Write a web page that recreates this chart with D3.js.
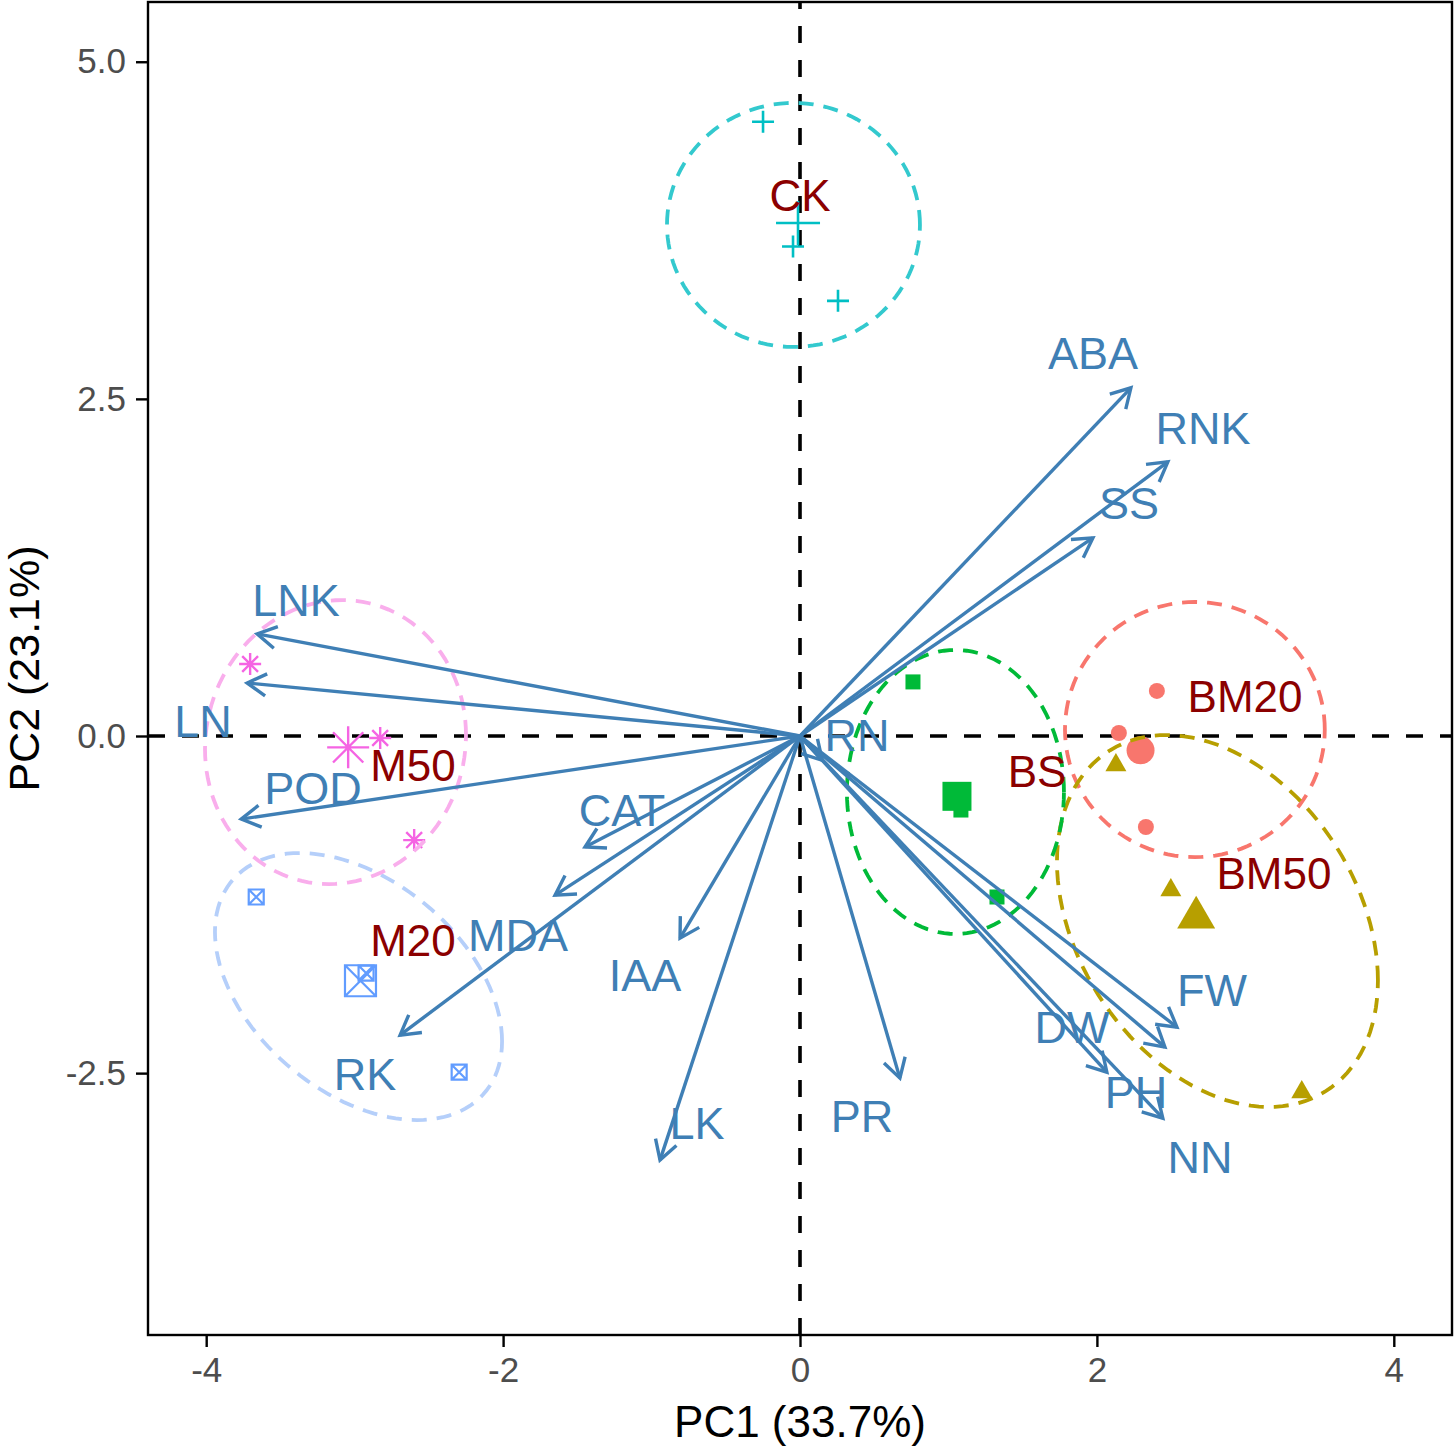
<!DOCTYPE html>
<html>
<head>
<meta charset="utf-8">
<script src="https://cdn.jsdelivr.net/npm/d3@7/dist/d3.min.js"></script>
<style>
  body { margin: 0; background: #fff; }
  svg { display: block; font-family: "Liberation Sans", Arial, sans-serif; }
</style>
</head>
<body>
<svg id="biplot"></svg>
<script>
const width = 1454;
const height = 1447;

// groups (ggplot default hue order)
const groups = ['BM20', 'BM50', 'BS', 'CK', 'M20', 'M50'];
const groupColors = ['#F8766D', '#B79F00', '#00BA38', '#00BFC4', '#619CFF', '#F564E3'];
const ellipseColors = ['#F8766D', '#B79F00', '#00BA38', '#33C9CE', '#B5CFFA', '#F9AEEC'];
const groupShapes = ['circle', 'triangle', 'square', 'plus', 'squareCross', 'asterisk'];

// individuals (PCA scores)
const indGroup = ['BM20', 'BM20', 'BM20', 'BM50', 'BM50', 'BM50', 'BS', 'BS', 'BS',
                  'CK', 'CK', 'CK', 'M20', 'M20', 'M20', 'M50', 'M50', 'M50'];
const indPC1 = [2.404, 2.148, 2.330, 2.128, 2.498, 3.380, 0.761, 1.084, 1.327,
                -0.249, -0.047, 0.256, -3.663, -2.923, -2.296, -3.704, -2.828, -2.599];
const indPC2 = [0.334, 0.022, -0.675, -0.200, -1.128, -2.626, 0.401, -0.549, -1.194,
                4.555, 3.630, 3.227, -1.194, -1.758, -2.493, 0.534, -0.015, -0.772];

// group label anchors (after repel)
const groupLabelPC1 = [2.998, 3.193, 1.597, 0.000, -2.607, -2.607];
const groupLabelPC2 = [0.297, -1.016, -0.260, 4.012, -1.513, -0.215];

// ellipses: centre, half width, half height, correlation
const ellCX = [2.660, 2.812, 1.047, -0.044, -2.974, -3.129];
const ellCY = [0.048, -1.372, -0.415, 3.790, -1.858, -0.045];
const ellA  = [0.875, 1.081, 0.731, 0.852, 0.967, 0.879];
const ellB  = [0.946, 1.379, 1.053, 0.905, 0.990, 1.053];
const ellR  = [0.00, -0.32, 0.00, 0.00, -0.41, 0.05];

// variables (loadings, scaled)
const varNames = ['ABA', 'RNK', 'SS', 'LNK', 'LN', 'POD', 'RN', 'CAT', 'MDA',
                  'IAA', 'RK', 'LK', 'PR', 'FW', 'DW', 'PH', 'NN'];
const varPC1 = [2.229, 2.478, 1.973, -3.657, -3.724, -3.764, 0.150, -1.448, -1.650,
                -0.808, -2.694, -0.943, 0.673, 2.539, 2.067, 2.458, 2.444];
const varPC2 = [2.582, 2.033, 1.469, 0.757, 0.393, -0.616, -0.180, -0.823, -1.180,
                -1.499, -2.218, -3.145, -2.537, -2.159, -2.493, -2.307, -2.834];
const varLabelPC1 = [1.974, 2.715, 2.216, -3.395, -4.022, -3.281, 0.384, -1.199, -1.900,
                     -1.044, -2.930, -0.694, 0.418, 2.775, 1.832, 2.264, 2.694];
const varLabelPC2 = [2.840, 2.284, 1.728, 1.009, 0.111, -0.386, 0.007, -0.549, -1.476,
                     -1.772, -2.506, -2.870, -2.818, -1.884, -2.158, -2.640, -3.122];

const xTicks = [-4, -2, 0, 2, 4];
const yTicks = [-2.5, 0, 2.5, 5];

const svg = d3.select('#biplot').attr('width', width).attr('height', height);

const x = d3.scaleLinear().domain([-4.392, 4.392]).range([148, 1452]);
const y = d3.scaleLinear().domain([-4.442, 5.443]).range([1335, 2]);
const color = d3.scaleOrdinal().domain(groups).range(groupColors);
const ellColor = d3.scaleOrdinal().domain(groups).range(ellipseColors);
const shape = d3.scaleOrdinal().domain(groups).range(groupShapes);

// axes
const xAxis = svg.append('g').attr('transform', `translate(0,${y.range()[0]})`)
  .call(d3.axisBottom(x).tickValues(xTicks).tickSize(12).tickPadding(10).tickFormat(d => String(d)));
const yAxis = svg.append('g').attr('transform', `translate(${x.range()[0]},0)`)
  .call(d3.axisLeft(y).tickValues(yTicks).tickSize(12).tickPadding(10).tickFormat(d => d.toFixed(1)));
[xAxis, yAxis].forEach(a => {
  a.select('.domain').remove();
  a.selectAll('line').attr('stroke', '#000').attr('stroke-width', 2.4);
  a.selectAll('text').attr('font-size', 35).attr('fill', '#4D4D4D')
    .style('font-family', '"Liberation Sans", Arial, sans-serif');
});

// reference lines
svg.append('line')
  .attr('x1', x.range()[0]).attr('x2', x.range()[1]).attr('y1', y(0)).attr('y2', y(0))
  .attr('stroke', '#000').attr('stroke-width', 3.6).attr('stroke-dasharray', '17,17');
svg.append('line')
  .attr('x1', x(0)).attr('x2', x(0)).attr('y1', y.range()[0]).attr('y2', y.range()[1])
  .attr('stroke', '#000').attr('stroke-width', 3.6).attr('stroke-dasharray', '17,17');

// symbols
function drawShape(g, kind, px, py, s, col) {
  if (kind === 'circle') {
    g.append('circle').attr('cx', px).attr('cy', py).attr('r', s / 2).attr('fill', col);
  } else if (kind === 'triangle') {
    const h = s * Math.sqrt(3) / 2;
    g.append('path')
      .attr('d', `M${px},${py - h * 0.55}L${px + s / 2},${py + h * 0.45}L${px - s / 2},${py + h * 0.45}Z`)
      .attr('fill', col);
  } else if (kind === 'square') {
    g.append('rect').attr('x', px - s / 2).attr('y', py - s / 2).attr('width', s).attr('height', s).attr('fill', col);
  } else if (kind === 'plus') {
    const r = s / 2;
    g.append('path').attr('d', `M${px - r},${py}H${px + r}M${px},${py - r}V${py + r}`)
      .attr('stroke', col).attr('stroke-width', 2.6).attr('fill', 'none');
  } else if (kind === 'squareCross') {
    const r = s / 2;
    g.append('path')
      .attr('d', `M${px - r},${py - r}H${px + r}V${py + r}H${px - r}Z M${px - r},${py - r}L${px + r},${py + r}M${px + r},${py - r}L${px - r},${py + r}`)
      .attr('stroke', col).attr('stroke-width', 2.2).attr('fill', 'none');
  } else if (kind === 'asterisk') {
    const r = s / 2, d = r * 0.72;
    g.append('path')
      .attr('d', `M${px - r},${py}H${px + r}M${px},${py - r}V${py + r}M${px - d},${py - d}L${px + d},${py + d}M${px + d},${py - d}L${px - d},${py + d}`)
      .attr('stroke', col).attr('stroke-width', 2.4).attr('fill', 'none');
  }
}

const smallSize = {circle: 16, triangle: 21, square: 15, plus: 22, squareCross: 15, asterisk: 22};
const bigSize = {circle: 28, triangle: 38, square: 29, plus: 44, squareCross: 31, asterisk: 42};

const pointLayer = svg.append('g');
indGroup.forEach((gname, i) => {
  const k = shape(gname);
  drawShape(pointLayer, k, x(indPC1[i]), y(indPC2[i]), smallSize[k], color(gname));
});

// group means (large symbols)
groups.forEach(gname => {
  const idx = d3.range(indGroup.length).filter(i => indGroup[i] === gname);
  const mx = d3.mean(idx, i => indPC1[i]);
  const my = d3.mean(idx, i => indPC2[i]);
  const k = shape(gname);
  drawShape(pointLayer, k, x(mx), y(my), bigSize[k], color(gname));
});

// ellipses
const ellLine = d3.line().curve(d3.curveLinearClosed);
groups.forEach((gname, i) => {
  const pts = d3.range(0, 120).map(j => {
    const t = j / 120 * 2 * Math.PI;
    const ex = ellCX[i] + ellA[i] * Math.cos(t);
    const ey = ellCY[i] + ellB[i] * (ellR[i] * Math.cos(t) + Math.sqrt(1 - ellR[i] * ellR[i]) * Math.sin(t));
    return [x(ex), y(ey)];
  });
  svg.append('path').attr('d', ellLine(pts))
    .attr('fill', 'none').attr('stroke', ellColor(gname))
    .attr('stroke-width', 3.8).attr('stroke-dasharray', '15,10');
});

// variable arrows
const arrowCol = '#3F7FB5';
const arrows = svg.append('g');
varNames.forEach((v, i) => {
  const x0 = x(0), y0 = y(0);
  const tx = x(varPC1[i]), ty = y(varPC2[i]);
  const ang = Math.atan2(ty - y0, tx - x0);
  const len = 22, spread = Math.PI / 6;
  const a1 = ang + Math.PI - spread, a2 = ang + Math.PI + spread;
  arrows.append('line').attr('x1', x0).attr('y1', y0).attr('x2', tx).attr('y2', ty)
    .attr('stroke', arrowCol).attr('stroke-width', 3.4);
  arrows.append('path')
    .attr('d', `M${tx + len * Math.cos(a1)},${ty + len * Math.sin(a1)}L${tx},${ty}L${tx + len * Math.cos(a2)},${ty + len * Math.sin(a2)}`)
    .attr('fill', 'none').attr('stroke', arrowCol).attr('stroke-width', 3.4)
    .attr('stroke-linejoin', 'miter');
});

// variable labels
svg.append('g').selectAll('text').data(varNames).enter().append('text')
  .attr('x', (d, i) => x(varLabelPC1[i]))
  .attr('y', (d, i) => y(varLabelPC2[i]))
  .attr('dy', '0.36em')
  .attr('text-anchor', 'middle')
  .attr('font-size', 45)
  .attr('fill', arrowCol)
  .text(d => d);

// group labels
svg.append('g').selectAll('text').data(groups).enter().append('text')
  .attr('x', (d, i) => x(groupLabelPC1[i]))
  .attr('y', (d, i) => y(groupLabelPC2[i]))
  .attr('dy', '0.36em')
  .attr('text-anchor', 'middle')
  .attr('font-size', 44)
  .attr('fill', '#8B0000')
  .text(d => d);

// panel border
svg.append('rect')
  .attr('x', x.range()[0]).attr('y', y.range()[1])
  .attr('width', x.range()[1] - x.range()[0]).attr('height', y.range()[0] - y.range()[1])
  .attr('fill', 'none').attr('stroke', '#000').attr('stroke-width', 2.4);

// axis titles
svg.append('text')
  .attr('x', (x.range()[0] + x.range()[1]) / 2).attr('y', 1437)
  .attr('text-anchor', 'middle').attr('font-size', 44).attr('fill', '#000')
  .text('PC1 (33.7%)');
svg.append('text')
  .attr('transform', `translate(39,${(y.range()[0] + y.range()[1]) / 2}) rotate(-90)`)
  .attr('text-anchor', 'middle').attr('font-size', 43).attr('fill', '#000')
  .text('PC2 (23.1%)');
</script>
</body>
</html>
